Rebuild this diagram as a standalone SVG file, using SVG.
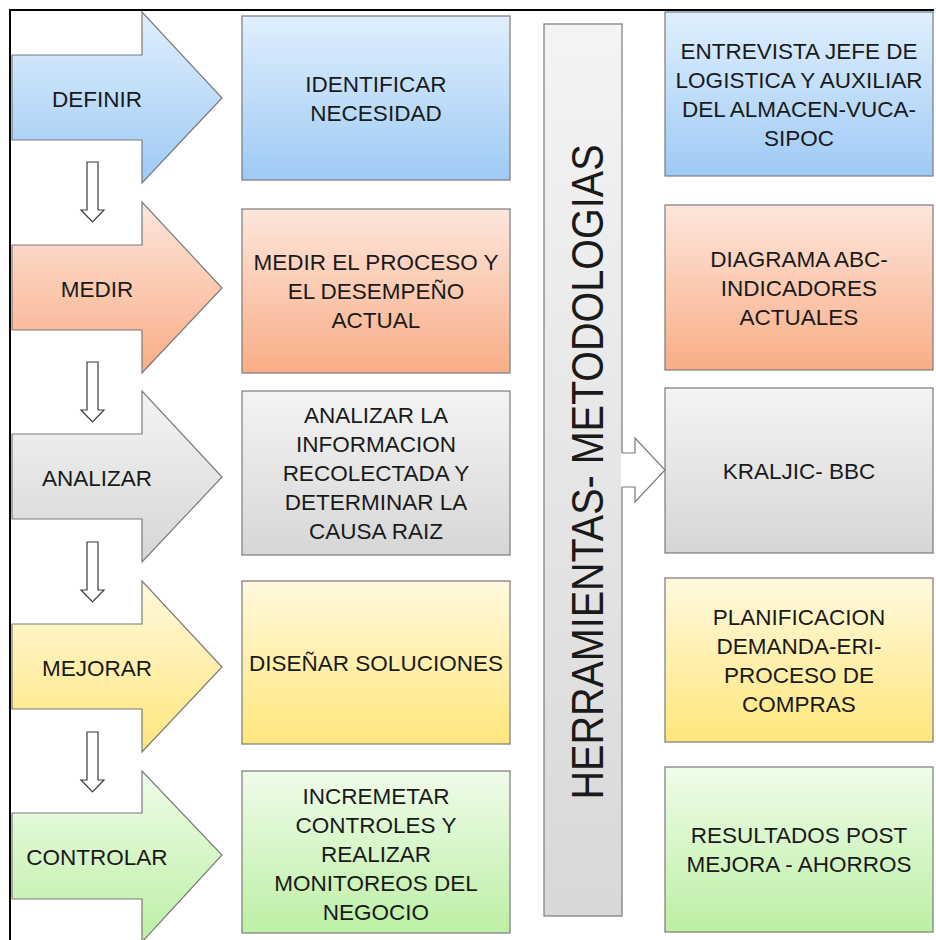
<svg xmlns="http://www.w3.org/2000/svg" width="936" height="940" viewBox="0 0 936 940">
  <defs>
    <linearGradient id="gBlue" x1="0" y1="0" x2="0" y2="1">
      <stop offset="0" stop-color="#e0effd"/>
      <stop offset="1" stop-color="#9ecaf5"/>
    </linearGradient>
    <linearGradient id="gOrange" x1="0" y1="0" x2="0" y2="1">
      <stop offset="0" stop-color="#fde6dc"/>
      <stop offset="1" stop-color="#f9ad86"/>
    </linearGradient>
    <linearGradient id="gGray" x1="0" y1="0" x2="0" y2="1">
      <stop offset="0" stop-color="#f4f4f4"/>
      <stop offset="1" stop-color="#d6d6d6"/>
    </linearGradient>
    <linearGradient id="gYellow" x1="0" y1="0" x2="0" y2="1">
      <stop offset="0" stop-color="#fff9de"/>
      <stop offset="1" stop-color="#ffe67c"/>
    </linearGradient>
    <linearGradient id="gGreen" x1="0" y1="0" x2="0" y2="1">
      <stop offset="0" stop-color="#effcea"/>
      <stop offset="1" stop-color="#bdefa4"/>
    </linearGradient>
    <linearGradient id="gBar" x1="0" y1="0" x2="0" y2="1">
      <stop offset="0" stop-color="#f4f4f4"/>
      <stop offset="1" stop-color="#d8d8d8"/>
    </linearGradient>
  </defs>
  <style>
    .shape { stroke: #7a7a7a; stroke-width: 1.2; }
    .lbl { font-family: "Liberation Sans", Arial, sans-serif; font-size: 22.5px; fill: #1a1a1a; text-anchor: middle; }
    .conn { fill: #ffffff; stroke: #3a3a3a; stroke-width: 1.2; }
  </style>

  <rect x="0" y="0" width="936" height="940" fill="#ffffff"/>

  <!-- outer frame: top and left edges only -->
  <path d="M10 940 V10 H934" fill="none" stroke="#000000" stroke-width="2"/>

  <!-- phase arrows -->
  <g id="phase-definir">
    <polygon class="shape" fill="url(#gBlue)" points="12,55 142,55 142,12 222,98 142,183 142,140 12,140"/>
    <text class="lbl" x="97" y="107">DEFINIR</text>
  </g>
  <g id="phase-medir">
    <polygon class="shape" fill="url(#gOrange)" points="12,245 142,245 142,202 222,288 142,373 142,330 12,330"/>
    <text class="lbl" x="97" y="297">MEDIR</text>
  </g>
  <g id="phase-analizar">
    <polygon class="shape" fill="url(#gGray)" points="12,434 142,434 142,391 222,477 142,562 142,519 12,519"/>
    <text class="lbl" x="97" y="486">ANALIZAR</text>
  </g>
  <g id="phase-mejorar">
    <polygon class="shape" fill="url(#gYellow)" points="12,624 142,624 142,581 222,667 142,752 142,709 12,709"/>
    <text class="lbl" x="97" y="676">MEJORAR</text>
  </g>
  <g id="phase-controlar">
    <polygon class="shape" fill="url(#gGreen)" points="12,813 142,813 142,771 222,855 142,942 142,899 12,899"/>
    <text class="lbl" x="97" y="865">CONTROLAR</text>
  </g>

  <!-- activity boxes -->
  <g id="act-identificar">
    <rect class="shape" fill="url(#gBlue)" x="242" y="16" width="268" height="164"/>
    <text class="lbl" x="376" y="91.5">IDENTIFICAR</text>
    <text class="lbl" x="376" y="120.5">NECESIDAD</text>
  </g>
  <g id="act-medir">
    <rect class="shape" fill="url(#gOrange)" x="242" y="209" width="268" height="164"/>
    <text class="lbl" x="376" y="270">MEDIR EL PROCESO Y</text>
    <text class="lbl" x="376" y="299">EL DESEMPEÑO</text>
    <text class="lbl" x="376" y="328">ACTUAL</text>
  </g>
  <g id="act-analizar">
    <rect class="shape" fill="url(#gGray)" x="242" y="391" width="268" height="164"/>
    <text class="lbl" x="376" y="423">ANALIZAR LA</text>
    <text class="lbl" x="376" y="452">INFORMACION</text>
    <text class="lbl" x="376" y="481">RECOLECTADA Y</text>
    <text class="lbl" x="376" y="510">DETERMINAR LA</text>
    <text class="lbl" x="376" y="539">CAUSA RAIZ</text>
  </g>
  <g id="act-disenar">
    <rect class="shape" fill="url(#gYellow)" x="242" y="581" width="268" height="163"/>
    <text class="lbl" x="376" y="671">DISEÑAR SOLUCIONES</text>
  </g>
  <g id="act-controlar">
    <rect class="shape" fill="url(#gGreen)" x="242" y="771" width="268" height="162"/>
    <text class="lbl" x="376" y="804">INCREMETAR</text>
    <text class="lbl" x="376" y="833">CONTROLES Y</text>
    <text class="lbl" x="376" y="862">REALIZAR</text>
    <text class="lbl" x="376" y="891">MONITOREOS DEL</text>
    <text class="lbl" x="376" y="920">NEGOCIO</text>
  </g>

  <!-- tools / methodologies bar -->
  <g id="tools-bar">
    <rect class="shape" fill="url(#gBar)" x="544" y="24" width="78" height="892"/>
    <text class="lbl" x="0" y="0" font-size="44" textLength="655" lengthAdjust="spacingAndGlyphs" transform="translate(603 472) rotate(-90)" style="font-size:44px">HERRAMIENTAS- METODOLOGIAS</text>
  </g>

  <!-- tool boxes -->
  <g id="tool-entrevista">
    <rect class="shape" fill="url(#gBlue)" x="665" y="12" width="268" height="164"/>
    <text class="lbl" x="799" y="58.5">ENTREVISTA JEFE DE</text>
    <text class="lbl" x="799" y="87.5">LOGISTICA Y AUXILIAR</text>
    <text class="lbl" x="799" y="116.5">DEL ALMACEN-VUCA-</text>
    <text class="lbl" x="799" y="145.5">SIPOC</text>
  </g>
  <g id="tool-abc">
    <rect class="shape" fill="url(#gOrange)" x="665" y="205" width="268" height="165"/>
    <text class="lbl" x="799" y="266.5">DIAGRAMA ABC-</text>
    <text class="lbl" x="799" y="295.5">INDICADORES</text>
    <text class="lbl" x="799" y="324.5">ACTUALES</text>
  </g>
  <g id="tool-kraljic">
    <rect class="shape" fill="url(#gGray)" x="665" y="388" width="268" height="165"/>
    <text class="lbl" x="799" y="478.5">KRALJIC- BBC</text>
  </g>
  <g id="tool-planificacion">
    <rect class="shape" fill="url(#gYellow)" x="665" y="578" width="268" height="164"/>
    <text class="lbl" x="799" y="624.5">PLANIFICACION</text>
    <text class="lbl" x="799" y="653.5">DEMANDA-ERI-</text>
    <text class="lbl" x="799" y="682.5">PROCESO DE</text>
    <text class="lbl" x="799" y="711.5">COMPRAS</text>
  </g>
  <g id="tool-resultados">
    <rect class="shape" fill="url(#gGreen)" x="665" y="767" width="268" height="165"/>
    <text class="lbl" x="799" y="843">RESULTADOS POST</text>
    <text class="lbl" x="799" y="872">MEJORA - AHORROS</text>
  </g>

  <!-- connectors -->
  <g id="connectors">
    <polygon class="conn" points="87,162 98,162 98,210 104,210 92.5,222 81,210 87,210"/>
    <polygon class="conn" points="87,362 98,362 98,410 104,410 92.5,422 81,410 87,410"/>
    <polygon class="conn" points="87,542 98,542 98,590 104,590 92.5,602 81,590 87,590"/>
    <polygon class="conn" points="87,732 98,732 98,780 104,780 92.5,792 81,780 87,780"/>
    <polygon fill="#ffffff" stroke="none" points="621,453 635,453 635,438 665,470 635,502 635,487 621,487"/>
    <polyline fill="none" stroke="#7a7a7a" stroke-width="1.2" points="622,453 635,453 635,438 665,470 635,502 635,487 622,487"/>
  </g>
</svg>
